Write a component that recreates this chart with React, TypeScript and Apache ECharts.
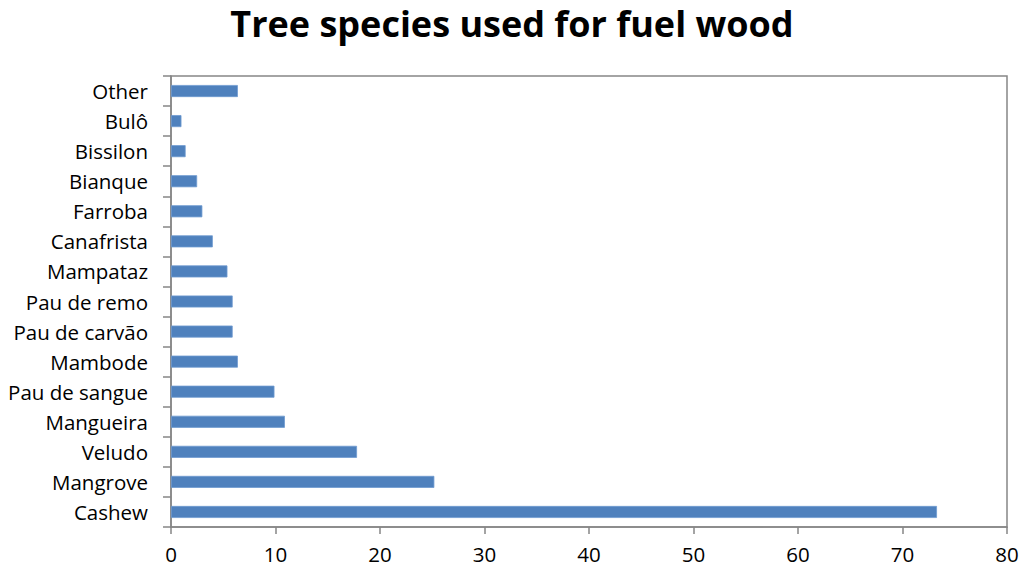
import React, { useEffect, useRef } from "react";
import * as echarts from "echarts";

const categories = [
  "Cashew",
  "Mangrove",
  "Veludo",
  "Mangueira",
  "Pau de sangue",
  "Mambode",
  "Pau de carvão",
  "Pau de remo",
  "Mampataz",
  "Canafrista",
  "Farroba",
  "Bianque",
  "Bissilon",
  "Bulô",
  "Other",
];
const values = [73.3, 25.2, 17.8, 10.9, 9.9, 6.4, 5.9, 5.9, 5.4, 4.0, 3.0, 2.5, 1.4, 1.0, 6.4];
const xTicks = { min: 0, max: 80, interval: 10 };

export default function App() {
  const ref = useRef<HTMLDivElement>(null);
  useEffect(() => {
    if (!ref.current) return;
    const chart = echarts.init(ref.current, undefined, { renderer: "svg" });
    const axisColor = "#868686";
    chart.setOption({
      animation: false,
      backgroundColor: "#ffffff",
      title: {
        text: "Tree species used for fuel wood",
        left: "center",
        top: 0,
        textStyle: {
          fontFamily: "Open Sans",
          fontWeight: "bold",
          fontSize: 36,
          color: "#000000",
        },
      },
      grid: {
        left: 171,
        right: 17,
        top: 76,
        bottom: 44,
        show: true,
        borderColor: axisColor,
        borderWidth: 1.5,
        backgroundColor: "transparent",
      },
      xAxis: {
        type: "value",
        min: xTicks.min,
        max: xTicks.max,
        interval: xTicks.interval,
        splitLine: { show: false },
        axisLine: { show: true, lineStyle: { color: axisColor, width: 1.5 } },
        axisTick: { show: true, length: 7, lineStyle: { color: axisColor, width: 1.5 } },
        axisLabel: {
          color: "#000000",
          fontFamily: "Open Sans",
          fontSize: 20.5,
          margin: 16,
        },
      },
      yAxis: {
        type: "category",
        data: categories,
        axisLine: { show: true, lineStyle: { color: axisColor, width: 1.5 } },
        axisTick: { show: true, length: 8, lineStyle: { color: axisColor, width: 1.5 } },
        axisLabel: {
          color: "#000000",
          fontFamily: "Open Sans",
          fontSize: 20.5,
          margin: 23,
        },
      },
      series: [
        {
          type: "bar",
          data: values,
          barWidth: "40%",
          itemStyle: {
            color: "#4F81BD",
            borderColor: "#6E9BD1",
            borderWidth: 0.8,
          },
        },
      ],
    });
    return () => chart.dispose();
  }, []);
  return (
    <div
      ref={ref}
      style={{ position: "absolute", left: 0, top: 0, width: 1024, height: 571 }}
    />
  );
}
